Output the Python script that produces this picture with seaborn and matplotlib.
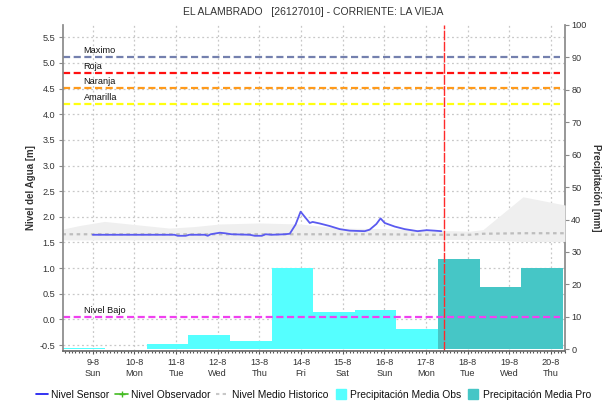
import matplotlib
matplotlib.use("Agg")
import matplotlib.pyplot as plt
from matplotlib.lines import Line2D
from matplotlib.ticker import MultipleLocator
import numpy as np
import pandas as pd
import seaborn as sns

# ---------------- data ----------------
# x axis: day of August (fractional days)
tick_days = [9, 10, 11, 12, 13, 14, 15, 16, 17, 18, 19, 20]
tick_weekdays = ["Sun", "Mon", "Tue", "Wed", "Thu", "Fri", "Sat", "Sun", "Mon", "Tue", "Wed", "Thu"]
tick_labels = [f"{d}-8\n{w}" for d, w in zip(tick_days, tick_weekdays)]

# daily precipitation (07:00 to 07:00), mm
obs_days = [8, 9, 10, 11, 12, 13, 14, 15, 16]
obs_precip = [0.35, 0.1, 1.8, 4.5, 2.6, 25.0, 11.6, 12.2, 6.3]
pro_days = [17, 18, 19]
pro_precip = [27.7, 19.3, 25.1]

# water level from the sensor, m
sensor_day = [9.00, 10.96, 11.04, 11.23, 11.32, 11.69, 11.76, 11.83, 12.05, 12.17,
              12.33, 12.77, 12.89, 13.06, 13.15, 13.30, 13.61, 13.73, 13.87, 13.99,
              14.09, 14.21, 14.28, 14.45, 14.69, 14.93, 15.17, 15.53, 15.65, 15.81,
              15.91, 16.01, 16.25, 16.49, 16.80, 17.02, 17.21, 17.37]
sensor_level = [1.65, 1.65, 1.63, 1.63, 1.65, 1.65, 1.63, 1.66, 1.69, 1.68,
                1.66, 1.65, 1.63, 1.63, 1.66, 1.65, 1.66, 1.67, 1.85, 2.10,
                2.00, 1.88, 1.90, 1.87, 1.82, 1.76, 1.73, 1.72, 1.75, 1.86,
                1.97, 1.88, 1.81, 1.76, 1.72, 1.74, 1.73, 1.72]

# historic level: mean and range, m
hist_day = [8.27, 8.68, 9.28, 9.88, 10.84, 11.44, 12.05, 13.00, 13.97, 14.45,
            14.93, 15.89, 17.09, 18.05, 18.37, 19.33, 20.34]
hist_upper = [1.76, 1.83, 1.91, 1.86, 1.78, 1.81, 1.86, 1.88, 1.86, 1.82,
              1.78, 1.77, 1.74, 1.72, 1.75, 2.39, 2.23]
hist_lower = [1.55, 1.55, 1.55, 1.55, 1.55, 1.55, 1.55, 1.55, 1.55, 1.55,
              1.55, 1.55, 1.56, 1.56, 1.55, 1.52, 1.52]
hist_mean = [1.66, 1.66, 1.66, 1.66, 1.66, 1.66, 1.66, 1.66, 1.66, 1.66,
             1.66, 1.66, 1.65, 1.65, 1.67, 1.68, 1.68]

# alert thresholds, m
threshold_names = ["Maximo", "Roja", "Naranja", "Amarilla", "Nivel Bajo"]
threshold_levels = [5.12, 4.81, 4.51, 4.20, 0.05]

# current time marker
now_day = 17.43

# ---------------- style ----------------
sns.set_theme(style="white")
plt.rcParams["font.family"] = ["Liberation Sans", "DejaVu Sans"]

threshold_colors = ["#7480AE", "#FF1010", "#FF9A1A", "#FFFF10", "#F040F0"]
sensor_color = "#5A5AF0"
obs_color = "#55FFFF"
pro_color = "#46C6C6"
text_color = "#333333"
axis_color = "#8A8A8A"

window_start = 7 / 24  # precipitation day starts at 07:00
x_min, x_max = 8 + window_start, 20.34
y_min, y_max = -0.61, 5.745

fig = plt.figure(figsize=(6.13, 4.04), dpi=100)
pos = [0.1033, 0.1319, 0.8184, 0.807]

# background layer: grid only
axg = fig.add_axes(pos, zorder=0)
# middle layer: precipitation bars (right axis)
ax2 = fig.add_axes(pos, zorder=1, sharex=axg)
# top layer: water levels (left axis)
ax = fig.add_axes(pos, zorder=2, sharex=axg)

for a in (axg, ax2, ax):
    a.set_xlim(x_min, x_max)
    for s in a.spines.values():
        s.set_visible(False)
ax2.patch.set_visible(False)
ax.patch.set_visible(False)

# grid
axg.set_ylim(y_min, y_max)
axg.set_yticks(np.arange(-0.5, 5.51, 0.5))
axg.set_xticks(tick_days)
axg.grid(True, color="#C8C8C8", linestyle=(0, (1.5, 2.2)), linewidth=0.9)
axg.tick_params(left=False, bottom=False, labelleft=False, labelbottom=False)
axg.set_facecolor("white")

# precipitation bars
ax2.bar(np.array(obs_days) + window_start, obs_precip, width=1.0, align="edge",
        color=obs_color, linewidth=0)
ax2.bar(np.array(pro_days) + window_start, pro_precip, width=1.0, align="edge",
        color=pro_color, linewidth=0)
ax2.set_ylim(-0.4, 100)
ax2.yaxis.set_label_position("right")
ax2.yaxis.tick_right()
ax2.set_yticks(np.arange(0, 101, 10))
ax2.spines["right"].set_visible(True)
ax2.spines["right"].set_color(axis_color)
ax2.tick_params(axis="y", which="both", right=True, length=3, width=0.8, color=axis_color,
                pad=1.5, labelsize=6.6, labelcolor=text_color)
ax2.tick_params(axis="x", bottom=False, labelbottom=False)
ax2.set_ylabel("Precipitación [mm]", rotation=-90, labelpad=10, fontsize=7,
               fontweight="bold", color=text_color)

# historic range and mean
ax.fill_between(hist_day, hist_lower, hist_upper, color="#EFEFEF", linewidth=0)
hist_df = pd.DataFrame({"day": hist_day, "level": hist_mean})
sns.lineplot(data=hist_df, x="day", y="level", ax=ax, color="#BDBDBD",
             linewidth=1.6, linestyle=(0, (1.6, 1.6)))

# sensor level
sensor_df = pd.DataFrame({"day": sensor_day, "level": sensor_level})
sns.lineplot(data=sensor_df, x="day", y="level", ax=ax, color=sensor_color,
             linewidth=1.3)

# alert thresholds
for name, lvl, col in zip(threshold_names, threshold_levels, threshold_colors):
    ax.axhline(lvl, xmin=0.0, xmax=0.99, color=col, linewidth=1.6,
               linestyle=(0, (3.2, 1.6)))
    ax.text(8.78, lvl + 0.04, name, fontsize=6.6, color="#111111",
            ha="left", va="bottom")

# current time
ax.axvline(now_day, color="#FF2A2A", linewidth=1.0, linestyle=(0, (7, 1)))

ax.set_ylim(y_min, y_max)
ax.set_yticks(np.arange(-0.5, 5.51, 0.5))
ax.set_yticklabels([f"{v:.1f}" for v in np.arange(-0.5, 5.51, 0.5)])
ax.set_xticks(tick_days)
ax.set_xticklabels(tick_labels, linespacing=1.35)
ax.xaxis.set_minor_locator(MultipleLocator(1 / 12))
ax.spines["left"].set_visible(True)
ax.spines["bottom"].set_visible(True)
ax.spines["left"].set_color(axis_color)
ax.spines["bottom"].set_color("#6A6A6A")
ax.tick_params(axis="y", left=True, length=3, width=0.8, color=axis_color,
               pad=3, labelsize=6.6, labelcolor=text_color)
ax.tick_params(axis="x", which="major", bottom=True, length=2, width=0.8, color="#555555",
               pad=3, labelsize=6.6, labelcolor=text_color)
ax.tick_params(axis="x", which="minor", bottom=True, length=1.5, width=0.8, color="#555555")
ax.set_xlabel("")
ax.set_ylabel("Nivel del Agua [m]", fontsize=7, fontweight="bold", color=text_color,
              labelpad=2)

fig.text(0.511, 0.970, "EL ALAMBRADO   [26127010] - CORRIENTE: LA VIEJA",
         ha="center", va="center", fontsize=7.5, color=text_color)

# legend
handles = [
    Line2D([], [], color="#1010F0", linewidth=1.2),
    Line2D([], [], color="#44BB22", linewidth=1.2, marker="+", markersize=4),
    Line2D([], [], color="#C8C8C8", linewidth=1.5, linestyle=(0, (1.6, 1.6))),
    Line2D([], [], color=obs_color, marker="s", markersize=7, linestyle="none"),
    Line2D([], [], color=pro_color, marker="s", markersize=7, linestyle="none"),
]
labels = ["Nivel Sensor", "Nivel Observador", "Nivel Medio Historico",
          "Precipitación Media Obs", "Precipitación Media Pro"]
fig.legend(handles, labels, loc="center", bbox_to_anchor=(0.511, 1 - 395 / 404),
           ncol=5, frameon=False, fontsize=7.4, handlelength=1.2, handletextpad=0.3,
           columnspacing=0.6, labelcolor="#111111")

fig.savefig("out.png", dpi=100)
